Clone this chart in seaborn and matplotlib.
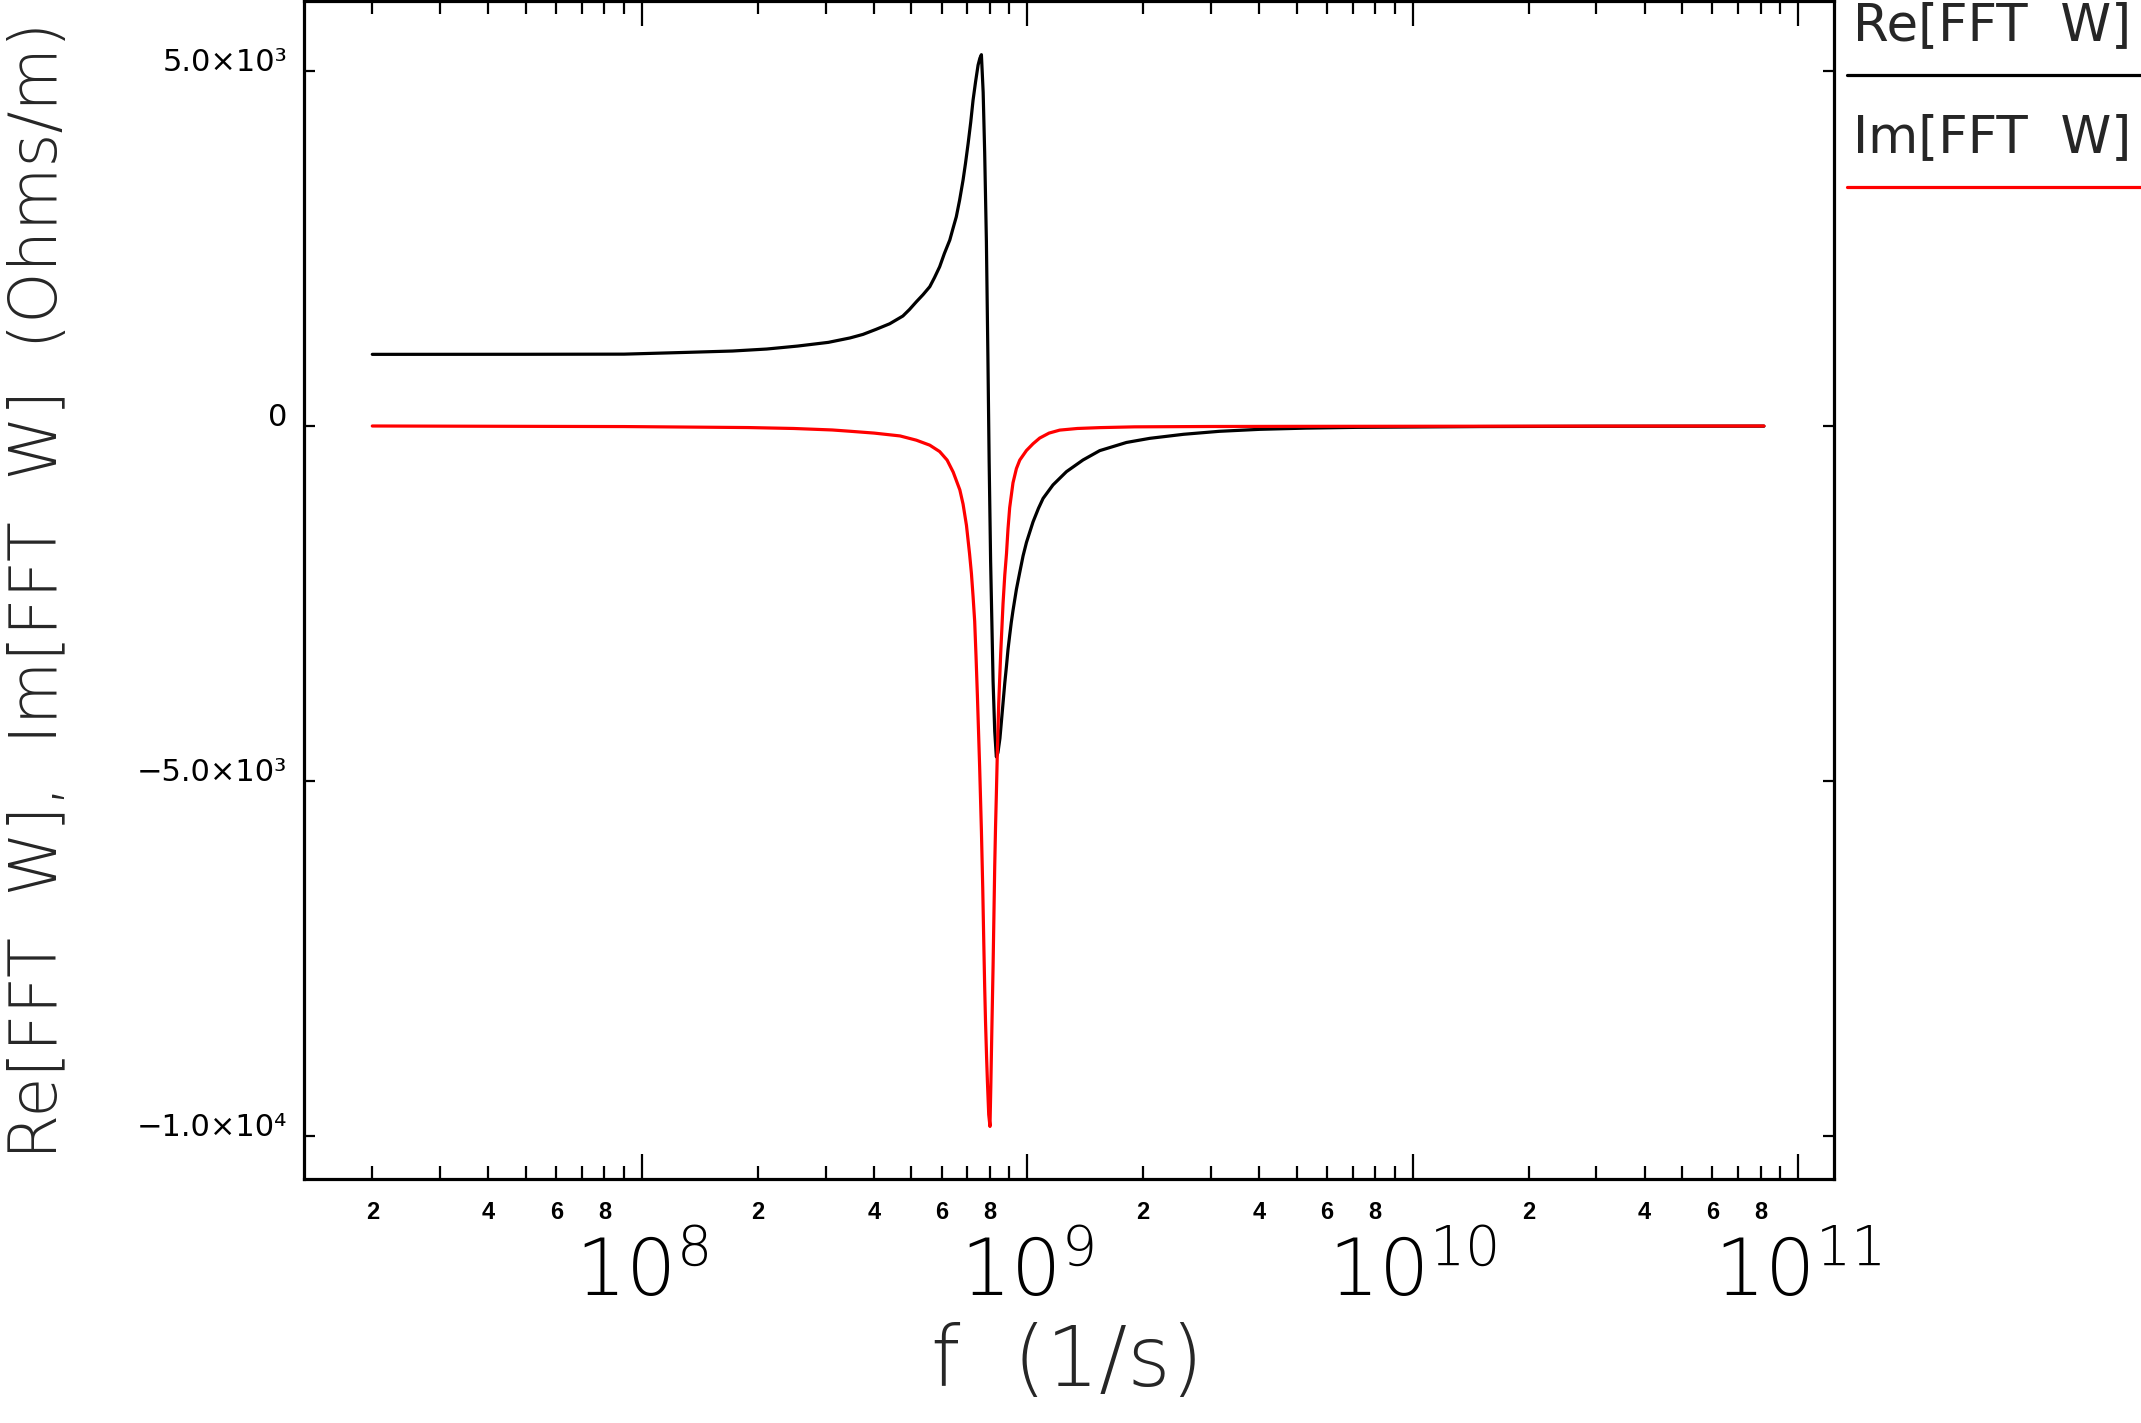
import numpy as np
import pandas as pd
import matplotlib
matplotlib.use("Agg")
import matplotlib.pyplot as plt
import seaborn as sns
from matplotlib.ticker import FixedLocator, FixedFormatter
from matplotlib.lines import Line2D

# ---------------- data ----------------
re_freq = [2.0e7, 5.0e7, 9.0e7, 1.31e8, 1.72e8, 2.11e8, 2.54e8, 3.05e8, 3.47e8, 3.75e8,
           4.05e8, 4.4e8, 4.76e8, 4.95e8, 5.16e8, 5.37e8, 5.59e8, 5.75e8, 5.93e8, 6.10e8,
           6.30e8, 6.42e8, 6.55e8, 6.68e8, 6.82e8, 6.92e8, 7.03e8, 7.14e8, 7.24e8, 7.35e8,
           7.46e8, 7.54e8, 7.61e8, 7.69e8, 7.76e8, 7.84e8, 7.91e8, 7.97e8, 8.04e8, 8.11e8,
           8.16e8, 8.24e8, 8.32e8, 8.40e8, 8.50e8, 8.58e8, 8.66e8, 8.75e8, 8.84e8, 8.92e8,
           9.01e8, 9.10e8, 9.19e8, 9.38e8, 9.57e8, 9.76e8, 9.96e8, 1.036e9, 1.07e9, 1.10e9,
           1.167e9, 1.265e9, 1.396e9, 1.543e9, 1.81e9, 2.08e9, 2.545e9, 3.15e9, 4.01e9,
           5.28e9, 7.17e9, 1.5e10, 3.0e10, 8.16e10]
re_vals = [1009, 1010, 1012, 1037, 1056, 1084, 1126, 1178, 1240, 1290,
           1360, 1440, 1549, 1640, 1750, 1850, 1962, 2090, 2243, 2430,
           2619, 2780, 2947, 3180, 3464, 3700, 3980, 4280, 4590, 4850,
           5083, 5180, 5230, 4700, 3850, 2600, 1000, -500, -1900, -2900,
           -3600, -4300, -4660, -4600, -4400, -4150, -3900, -3620, -3380, -3150,
           -2950, -2760, -2600, -2300, -2060, -1830, -1640, -1350, -1160, -1020,
           -830, -643, -479, -347, -232, -174, -117, -75, -47,
           -30, -19, -8, -4, -2]

im_freq = [2.0e7, 9.0e7, 1.89e8, 2.48e8, 3.12e8, 3.49e8, 4.01e8, 4.68e8, 5.16e8, 5.59e8,
           5.93e8, 6.20e8, 6.43e8, 6.69e8, 6.82e8, 6.96e8, 7.09e8, 7.17e8, 7.24e8, 7.31e8,
           7.37e8, 7.43e8, 7.48e8, 7.53e8, 7.57e8, 7.61e8, 7.67e8, 7.72e8, 7.76e8, 7.80e8,
           7.85e8, 7.89e8, 7.95e8, 8.01e8, 8.05e8, 8.10e8, 8.16e8, 8.20e8, 8.24e8, 8.28e8,
           8.32e8, 8.37e8, 8.44e8, 8.54e8, 8.66e8, 8.75e8, 8.84e8, 8.92e8, 9.01e8, 9.19e8,
           9.38e8, 9.57e8, 9.96e8, 1.036e9, 1.078e9, 1.14e9, 1.215e9, 1.35e9, 1.543e9,
           1.9e9, 3.0e9, 5.0e9, 8.16e10]
im_vals = [0, -8, -22, -35, -56, -75, -100, -140, -200, -270,
           -360, -480, -650, -900, -1100, -1400, -1800, -2080, -2400, -2750,
           -3250, -3800, -4300, -4800, -5250, -5700, -6500, -7300, -7900, -8400,
           -8900, -9250, -9700, -9866, -9300, -8500, -7600, -6900, -6200, -5650,
           -5200, -4600, -3900, -3200, -2500, -2100, -1800, -1450, -1150, -800,
           -600, -480, -345, -250, -170, -100, -58, -35, -23,
           -12, -7, -5, 0]

series_names = ["Re[FFT  W]", "Im[FFT  W]"]
series_colors = ["#000000", "#ff0000"]

y_tick_values = [-1.0e4, -5.0e3, 0, 5.0e3]
y_tick_labels = ["\u22121.0\u00d710\u2074", "\u22125.0\u00d710\u00b3", "0", "5.0\u00d710\u00b3"]

x_major_values = [1e8, 1e9, 1e10, 1e11]
x_major_labels = [r"$10^{8}$", r"$10^{9}$", r"$10^{10}$", r"$10^{11}$"]
x_minor_values = [2e7, 3e7, 4e7, 5e7, 6e7, 7e7, 8e7, 9e7,
                  2e8, 3e8, 4e8, 5e8, 6e8, 7e8, 8e8, 9e8,
                  2e9, 3e9, 4e9, 5e9, 6e9, 7e9, 8e9, 9e9,
                  2e10, 3e10, 4e10, 5e10, 6e10, 7e10, 8e10, 9e10]
x_minor_labels = ["2", "", "4", "", "6", "", "8", ""] * 4

x_label = "f  (1/s)"
y_label = "Re[FFT  W],  Im[FFT  W]  (Ohms/m)"

# ---------------- styling ----------------
sns.set_style("ticks")
plt.rcParams["font.family"] = ["DejaVu Sans"]
plt.rcParams["mathtext.fontset"] = "custom"
plt.rcParams["mathtext.rm"] = "DejaVu Sans:light"
plt.rcParams["mathtext.it"] = "DejaVu Sans:light"
plt.rcParams["mathtext.bf"] = "DejaVu Sans:light"

W, H = 2141, 1423
fig = plt.figure(figsize=(W / 100, H / 100), dpi=100)
ax = fig.add_axes([304 / W, 1 - 1179 / H, (1834 - 304) / W, (1179 - 1) / H])

df_re = pd.DataFrame({"f": re_freq, "v": re_vals})
df_im = pd.DataFrame({"f": im_freq, "v": im_vals})
sns.lineplot(data=df_re, x="f", y="v", color=series_colors[0], lw=2.3, ax=ax,
             sort=False, estimator=None)
sns.lineplot(data=df_im, x="f", y="v", color=series_colors[1], lw=2.3, ax=ax,
             sort=False, estimator=None)

ax.set_xscale("log")
ax.set_xlim(1.33e7, 1.24e11)
ax.set_ylim(-10606, 5986)

for s in ax.spines.values():
    s.set_linewidth(2.3)
    s.set_color("black")
    s.set_visible(True)

ax.xaxis.set_major_locator(FixedLocator(x_major_values))
ax.xaxis.set_major_formatter(FixedFormatter(x_major_labels))
ax.xaxis.set_minor_locator(FixedLocator(x_minor_values))
ax.xaxis.set_minor_formatter(FixedFormatter(x_minor_labels))
ax.yaxis.set_major_locator(FixedLocator(y_tick_values))
ax.yaxis.set_major_formatter(FixedFormatter(y_tick_labels))
ax.yaxis.set_minor_locator(FixedLocator([]))

ax.tick_params(axis="x", which="major", direction="in", top=True, bottom=True,
               length=18, width=1.6, labelsize=57, pad=41, colors="black")
ax.tick_params(axis="x", which="minor", direction="in", top=True, bottom=True,
               length=9.5, width=1.6, labelsize=17, pad=16, colors="black")
ax.tick_params(axis="y", which="major", direction="in", left=True, right=True,
               length=8, width=1.6, labelsize=22, pad=12, colors="black")

for lab in ax.xaxis.get_minorticklabels():
    lab.set_fontweight("bold")
    lab.set_family(["Liberation Sans", "DejaVu Sans"])
for t in ax.yaxis.get_major_ticks():
    t.label1.set_verticalalignment("baseline")

ax.set_xlabel(x_label, fontsize=60, fontweight="light")
ax.xaxis.set_label_coords(0.499, -0.1215)
ax.set_ylabel(y_label, fontsize=47, fontweight="light")
ax.yaxis.set_label_coords(-0.152, 0.5)

# legend drawn outside at the top right, text above each line sample
fig.text(1853 / W, 1 - 40 / H, series_names[0], fontsize=37, fontweight="normal",
         ha="left", va="baseline")
fig.add_artist(Line2D([1847 / W, 1.0], [1 - 75 / H, 1 - 75 / H],
                      color=series_colors[0], lw=2.3, transform=fig.transFigure))
fig.text(1853 / W, 1 - 152 / H, series_names[1], fontsize=37, fontweight="normal",
         ha="left", va="baseline")
fig.add_artist(Line2D([1847 / W, 1.0], [1 - 187 / H, 1 - 187 / H],
                      color=series_colors[1], lw=2.3, transform=fig.transFigure))

fig.savefig("out.png", dpi=100, facecolor="white")
